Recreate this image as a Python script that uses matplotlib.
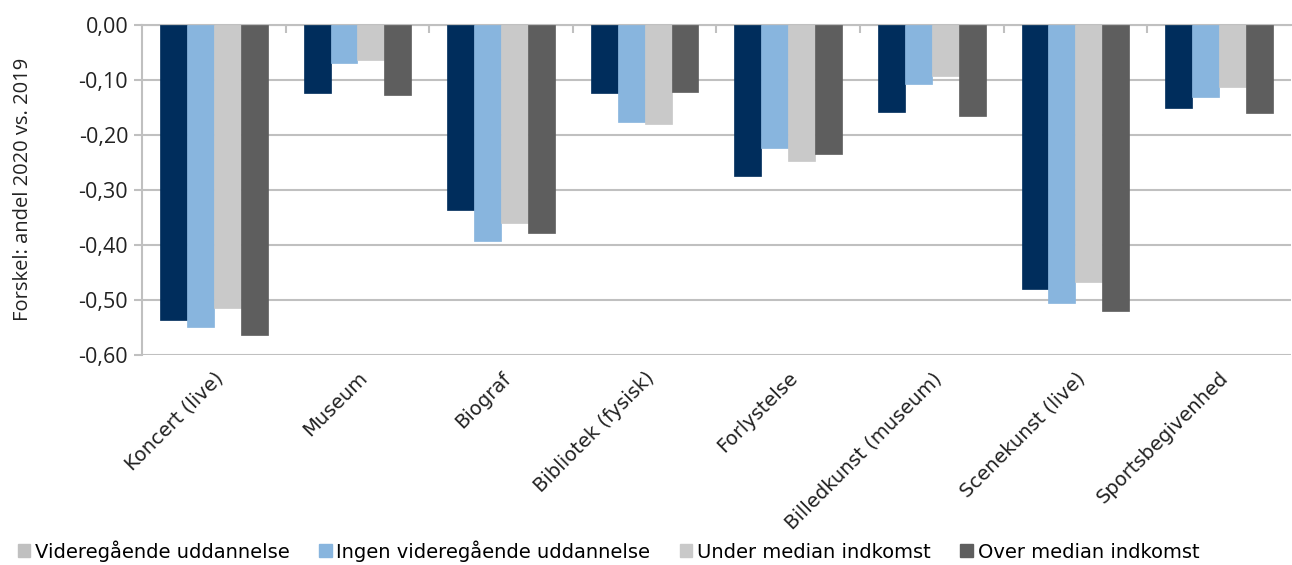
import matplotlib.pyplot as plt
import numpy as np
from matplotlib.patches import Patch

kategorier = ['Koncert (live)', 'Museum', 'Biograf', 'Bibliotek (fysisk)', 'Forlystelse',
              'Billedkunst (museum)', 'Scenekunst (live)', 'Sportsbegivenhed']
serier = ['Videregående uddannelse', 'Ingen videregående uddannelse',
          'Under median indkomst', 'Over median indkomst']
videregaaende = [-0.536, -0.123, -0.336, -0.123, -0.274, -0.158, -0.481, -0.152]
ingen_videregaaende = [-0.549, -0.069, -0.393, -0.176, -0.224, -0.108, -0.505, -0.132]
under_median = [-0.515, -0.064, -0.360, -0.181, -0.248, -0.093, -0.467, -0.113]
over_median = [-0.564, -0.127, -0.379, -0.122, -0.234, -0.166, -0.520, -0.161]

farver = ['#002d5c', '#88b5de', '#c9c9c9', '#5e5e5e']
legend_farver = ['#c0c0c0', '#88b5de', '#c9c9c9', '#5e5e5e']
FONT = ['DejaVu Sans']
YFONT = ['Open Sans', 'DejaVu Sans']

fig = plt.figure(figsize=(12.92, 5.65), dpi=100)
ax = fig.add_axes([0.110, 0.372, 0.889, 0.584])

x = np.arange(len(kategorier))
bredde = 0.1875
for i, vaerdier in enumerate([videregaaende, ingen_videregaaende, under_median, over_median]):
    ax.bar(x + (i - 1.5) * bredde, vaerdier, width=bredde, color=farver[i],
           edgecolor=farver[i], linewidth=0.5, zorder=3)

ax.set_xlim(-0.5, len(kategorier) - 0.5)
ax.set_ylim(-0.6, 0)
yt = np.arange(-0.6, 0.001, 0.1)
ax.set_yticks(yt)
ax.set_yticklabels([f'{v:.2f}'.replace('.', ',').replace('-0,00', '0,00') for v in yt],
                   fontsize=15.5, family=YFONT, color='#222222')
ax.yaxis.grid(True, color='#c0c0c0', linewidth=1.5, zorder=0)

ax.set_xticks(x)
ax.set_xticklabels(kategorier, rotation=45, ha='right', rotation_mode='anchor',
                   fontsize=14, family=FONT, color='#222222')
ax.tick_params(axis='x', length=0, pad=10)
ax.tick_params(axis='y', length=6, color='#c0c0c0', width=1.5, pad=4)
ax.set_xticks(np.arange(0.5, len(kategorier) - 0.5), minor=True)
ax.tick_params(axis='x', which='minor', top=True, bottom=False, direction='in',
               length=6, color='#c0c0c0', width=1.5)

for s in ['right', 'bottom']:
    ax.spines[s].set_visible(False)
ax.spines['left'].set_color('#c0c0c0')
ax.spines['left'].set_linewidth(1.5)
ax.spines['top'].set_color('#c0c0c0')
ax.spines['top'].set_linewidth(1.5)

ax.set_ylabel('Forskel: andel 2020 vs. 2019', fontsize=14.5, family=YFONT, color='#222222')
ax.yaxis.set_label_coords(-0.095, 0.5)

handles = [Patch(facecolor=c, edgecolor=c) for c in legend_farver]
fig.legend(handles, serier, loc='lower left', bbox_to_anchor=(0.0, -0.025), ncol=4,
           frameon=False, handlelength=0.65, handleheight=0.65, handletextpad=0.25,
           columnspacing=1.5, prop={'family': FONT, 'size': 14})

fig.savefig('out.png', dpi=100)
